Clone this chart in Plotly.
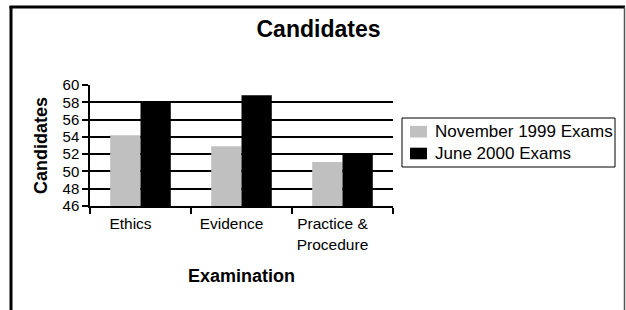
import plotly.graph_objects as go

categories = ["Ethics", "Evidence", "Practice &<br>Procedure"]
series_names = ["November 1999 Exams", "June 2000 Exams"]
nov_1999 = [54.2, 52.9, 51.1]
june_2000 = [58.0, 58.8, 52.1]
y_ticks = [46, 48, 50, 52, 54, 56, 58, 60]
colors = ["#c0c0c0", "#000000"]

W, H = 626, 310
L, R, T, B = 90, 233, 85, 104
pw, ph = W - L - R, H - T - B

def px_x(px):
    return (px - L) / pw

def px_y(py):
    return (H - B - py) / ph

font = "Liberation Sans, Arial, sans-serif"

fig = go.Figure()
for name, vals, col in zip(series_names, [nov_1999, june_2000], colors):
    fig.add_trace(go.Bar(x=categories, y=vals, name=name,
                         marker=dict(color=col, line=dict(width=0))))

# legend drawn as a boxed key (compact row spacing like the reference)
shapes = [
    dict(type="rect", xref="paper", yref="paper", x0=px_x(402), x1=px_x(615),
         y0=px_y(167), y1=px_y(118), line=dict(color="black", width=1),
         fillcolor="white"),
]
annotations = []
row_centers = [131.7, 153.5]
for name, col, yc in zip(series_names, colors, row_centers):
    shapes.append(dict(type="rect", xref="paper", yref="paper",
                       x0=px_x(410), x1=px_x(427), y0=px_y(yc + 5.8), y1=px_y(yc - 5.8),
                       line=dict(width=0), fillcolor=col))
    annotations.append(dict(text=name, xref="paper", yref="paper", x=px_x(433),
                            y=px_y(yc), xanchor="left", yanchor="middle", showarrow=False,
                            font=dict(size=17, family=font, color="black")))

# outer frame
shapes += [
    dict(type="line", xref="paper", yref="paper", x0=px_x(11), x1=px_x(11),
         y0=px_y(6), y1=px_y(330), line=dict(color="black", width=3)),
    dict(type="line", xref="paper", yref="paper", x0=px_x(9.5), x1=px_x(625),
         y0=px_y(7), y1=px_y(7), line=dict(color="black", width=3)),
    dict(type="line", xref="paper", yref="paper", x0=px_x(624.5), x1=px_x(624.5),
         y0=px_y(7), y1=px_y(330), line=dict(color="#555555", width=1.5)),
]

fig.update_layout(
    width=W, height=H,
    margin=dict(l=L, r=R, t=T, b=B, pad=0, autoexpand=False),
    paper_bgcolor="white", plot_bgcolor="white",
    barmode="group", bargap=0.4, bargroupgap=0,
    font=dict(family=font, color="black", size=15),
    title=dict(text="<b>Candidates</b>", font=dict(size=23, family=font, color="black"),
               xref="container", x=318.5 / W, xanchor="center",
               yref="container", y=1 - 29 / H, yanchor="middle"),
    showlegend=False,
    xaxis=dict(
        type="category", showline=True, linecolor="black", linewidth=1.5,
        ticks="outside", tickson="boundaries", ticklen=6, tickcolor="black", tickwidth=1.5,
        tickfont=dict(size=15.5, family=font, color="black"),
        ticklabelstandoff=3, ticklabelshift=-10,
        title=dict(text="<b>Examination</b>", font=dict(size=18, family=font, color="black"),
                   standoff=18),
        showgrid=False, fixedrange=True, automargin=False,
    ),
    yaxis=dict(
        range=[46, 60], tickvals=y_ticks, showline=True, linecolor="black", linewidth=1.5,
        ticks="outside", ticklen=6, tickcolor="black", tickwidth=1.5,
        tickfont=dict(size=15, family=font, color="black"),
        showgrid=True, gridcolor="black", gridwidth=1.5,
        title=dict(text="<b>Candidates</b>", font=dict(size=18, family=font, color="black"),
                   standoff=10),
        zeroline=False, fixedrange=True, automargin=False,
    ),
    shapes=shapes,
    annotations=annotations,
)

fig.write_html(
    "out.html",
    config={"displayModeBar": False},
    post_script="document.body.style.margin='0';document.body.style.padding='0';",
)
